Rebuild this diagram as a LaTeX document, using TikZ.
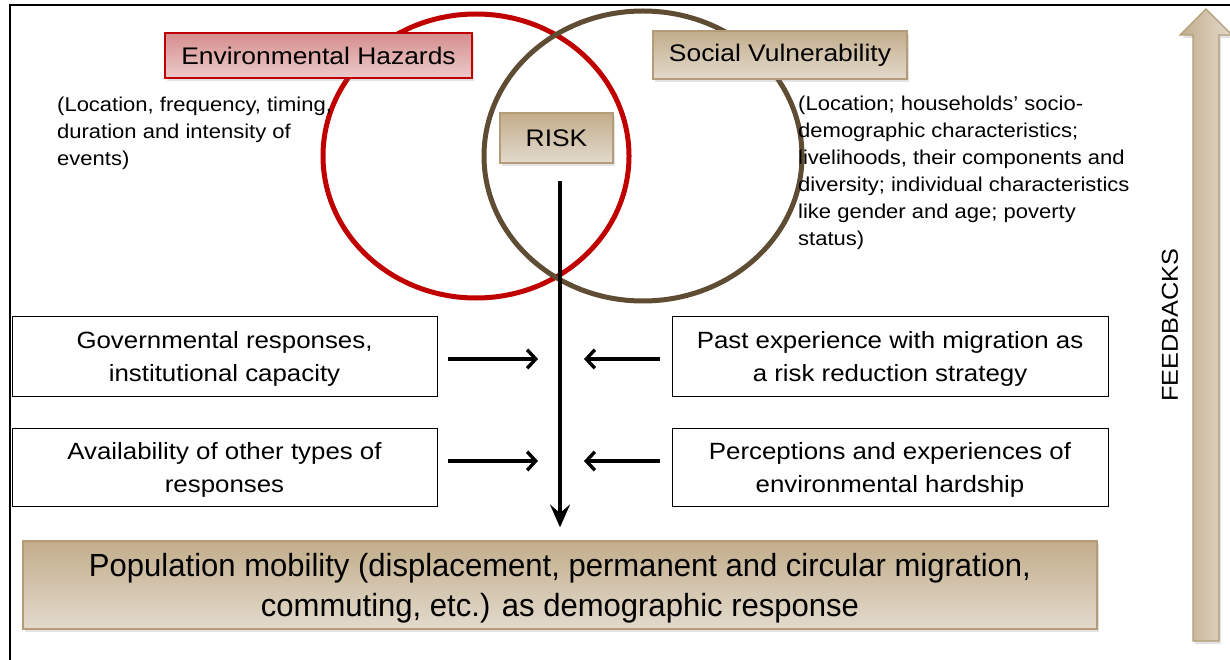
\documentclass[tikz,border=0pt]{standalone}
\usepackage{fontspec}
\setmainfont[FakeStretch=1.1]{Liberation Sans}
\newfontfamily\narrowfont[FakeStretch=0.97]{Liberation Sans}
\usetikzlibrary{arrows.meta,shadows}
\definecolor{hazc}{HTML}{C00000}
\definecolor{hazbg}{HTML}{D58E8E}
\definecolor{hazlt}{HTML}{EDCACA}
\definecolor{vulc}{HTML}{5E4C33}
\definecolor{tanc}{HTML}{C2AD8B}
\definecolor{tanlt}{HTML}{E3DACD}
\definecolor{tanedge}{HTML}{B39C77}
\tikzset{
  ar/.style={-{Straight Barb[length=3mm,width=6.5mm]},line width=3.4pt},
  mar/.style={-{Stealth[length=8mm,width=7mm,inset=3mm]},line width=4pt},
  shd/.style={drop shadow={shadow xshift=2pt,shadow yshift=-3pt,opacity=0.22}},
  tbox/.style={draw=tanedge,line width=1.3pt,top color=tanc,bottom color=tanlt,shd,inner sep=0pt},
  rbox/.style={draw=hazc,line width=1.3pt,top color=hazbg,bottom color=hazlt,shd,inner sep=0pt},
  wbox/.style={draw,line width=0.9pt,fill=white,align=center,inner sep=0pt,text depth=0pt,
    font=\fontsize{23.5}{33}\selectfont},
  txt/.style={anchor=north west,align=left,inner sep=0pt,font=\fontsize{20}{27}\selectfont}
}
\begin{document}
\begin{tikzpicture}[x=1pt,y=-1pt]
\useasboundingbox (0,0) rectangle (1230,660);
\fill[white] (0,0) rectangle (1230,660);
\draw[line width=1.6pt] (10,660) -- (10,5) -- (1230,5);
% hazard and vulnerability rings
\draw[hazc,line width=5pt] (476,156) ellipse [x radius=153,y radius=142];
\draw[vulc,line width=5pt] (643,156) ellipse [x radius=159,y radius=145];
% headings
\node[rbox,minimum width=307,minimum height=45,font=\fontsize{24}{28}\selectfont] (haz) at (318.5,55.5) {Environmental Hazards};
\node[tbox,minimum width=254,minimum height=48,font=\fontsize{24}{28}\selectfont] (vul) at (780,55) {Social Vulnerability};
\node[tbox,minimum width=113,minimum height=50,font=\fontsize{24}{28}\selectfont] (risk) at (556.5,138) {RISK};
\node[txt] (hazt) at (57,97) {(Location, frequency, timing,\\duration and intensity of\\events)};
\node[txt] (vult) at (798,96) {(Location; households' socio-\\demographic characteristics;\\livelihoods, their components and\\diversity; individual characteristics\\like gender and age; poverty\\status)};
% influencing factors
\node[wbox,minimum width=425,minimum height=80] (gov) at (224.5,356) {Governmental responses,\\institutional capacity};
\node[wbox,minimum width=436,minimum height=80] (past) at (890,356) {Past experience with migration as\\a risk reduction strategy};
\node[wbox,minimum width=425,minimum height=78] (avail) at (224.5,467) {Availability of other types of\\responses};
\node[wbox,minimum width=436,minimum height=78] (perc) at (890,467) {Perceptions and experiences of\\environmental hardship};
% outcome
\node[tbox,minimum width=1074,minimum height=88,align=center,text depth=0pt,font=\narrowfont\fontsize{32}{40}\selectfont] (pop) at (560,585) {Population mobility (displacement, permanent and circular migration,\\commuting, etc.) as demographic response};
\coordinate (g1) at (538,359);
\coordinate (p1) at (584,359);
\coordinate (a1) at (538,461);
\coordinate (e1) at (584,461);
\draw[mar,shorten <=17pt,shorten >=13pt] (risk.south -| 560,0) -- (pop.north -| 560,0);
\draw[ar,shorten <=11pt] (gov.east |- g1) -- (g1);
\draw[ar,shorten <=12pt] (past.west |- p1) -- (p1);
\draw[ar,shorten <=11pt] (avail.east |- a1) -- (a1);
\draw[ar,shorten <=12pt] (perc.west |- e1) -- (e1);
% feedback arrow
\draw[draw=tanedge,line width=1.3pt,left color=tanc,right color=tanlt,shd]
  (1193,641) -- (1193,35) -- (1180,35) -- (1206,9) -- (1232,35) -- (1219,35) -- (1219,641) -- cycle;
\node[rotate=90,inner sep=0pt,font=\fontsize{23}{28}\selectfont] (fb) at (1170,325) {FEEDBACKS};
\end{tikzpicture}
\end{document}
